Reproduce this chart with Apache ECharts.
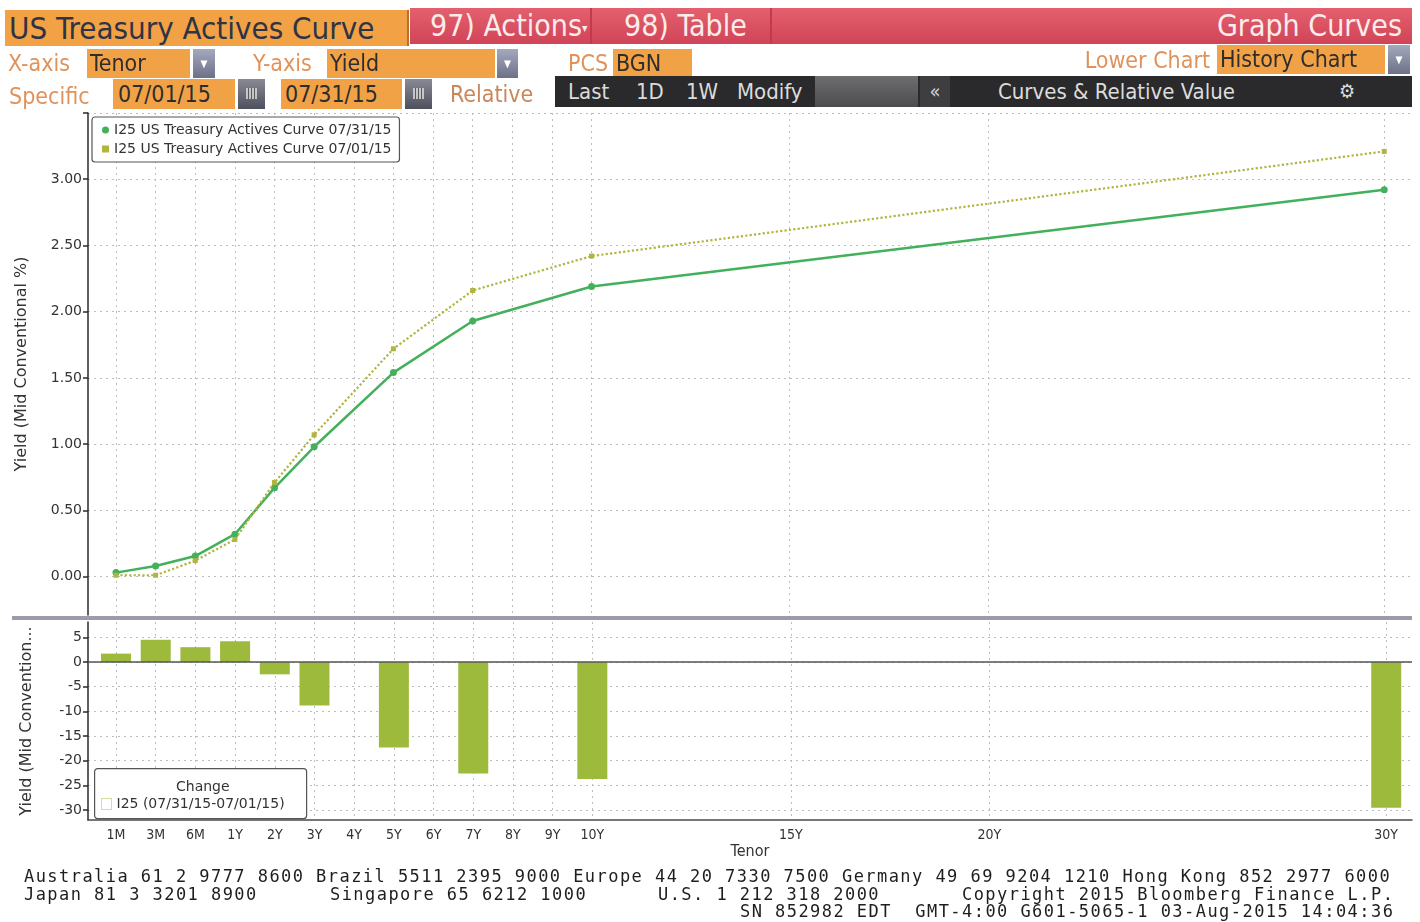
<!DOCTYPE html>
<html><head><meta charset="utf-8">
<script src="https://cdn.jsdelivr.net/npm/echarts@6/dist/echarts.min.js"></script>
<style>
body{margin:0;background:#fff;width:1420px;height:922px;overflow:hidden;position:relative;}
#chart{position:absolute;left:0;top:0;width:1420px;height:922px;}
.b{position:absolute;box-sizing:border-box;white-space:nowrap;font-family:"DejaVu Sans Condensed","DejaVu Sans",sans-serif;font-stretch:condensed;z-index:5;}
.org{background:#f2a246;color:#2d2d2d;font-size:23px;line-height:29px;padding-left:3px;}
.lab{color:#e0925a;font-size:23px;line-height:29px;}
.dd{background:linear-gradient(#a4a9bc,#6c7189);color:#fff;font-size:10px;text-align:center;line-height:29px;}
.cal{background:linear-gradient(#8a8a96,#4e4f5c);}
.cal:after{content:"";position:absolute;left:8px;top:9px;width:11px;height:11px;background:repeating-linear-gradient(90deg,#ddd 0 2px,transparent 2px 3px),#555;opacity:.8;}
.dk{color:#dcdcdc;font-size:22px;line-height:30px;}
.ft{position:absolute;font-family:"DejaVu Sans Mono",monospace;font-size:17px;letter-spacing:1.45px;color:#1e1e1e;white-space:pre;line-height:18px;z-index:5;}
</style></head>
<body>
<div id="chart"></div>
<!-- header row 1 -->
<div class="b" style="left:5px;top:10px;width:404px;height:36px;background:#f2a144;border-right:2px solid #b8702a;color:#2f3444;font-size:31px;line-height:36px;padding-left:4px;">US Treasury Actives Curve</div>
<div class="b" style="left:410px;top:8px;width:1002px;height:36px;background:linear-gradient(#e4606e,#d04457);"></div>
<div class="b" style="left:590px;top:8px;width:2px;height:36px;background:#c23a4c;"></div>
<div class="b" style="left:770px;top:8px;width:2px;height:36px;background:#c23a4c;"></div>
<div class="b" style="left:430px;top:8px;color:#fbecec;font-size:30px;line-height:36px;">97) Actions<span style="font-size:12px;vertical-align:middle;">▾</span></div>
<div class="b" style="left:624px;top:8px;color:#fbecec;font-size:30px;line-height:36px;">98) Table</div>
<div class="b" style="left:1100px;top:8px;width:302px;text-align:right;color:#fbecec;font-size:30px;line-height:36px;">Graph Curves</div>
<!-- header row 2 -->
<div class="b lab" style="left:8px;top:49px;">X-axis</div>
<div class="b org" style="left:87px;top:49px;width:103px;height:29px;">Tenor</div>
<div class="b dd" style="left:193px;top:49px;width:22px;height:29px;">▼</div>
<div class="b lab" style="left:253px;top:49px;">Y-axis</div>
<div class="b org" style="left:327px;top:49px;width:168px;height:29px;">Yield</div>
<div class="b dd" style="left:497px;top:49px;width:21px;height:29px;">▼</div>
<div class="b lab" style="left:568px;top:49px;">PCS</div>
<div class="b org" style="left:613px;top:49px;width:79px;height:29px;">BGN</div>
<div class="b lab" style="left:1010px;top:46px;width:200px;text-align:right;">Lower Chart</div>
<div class="b org" style="left:1217px;top:45px;width:168px;height:29px;">History Chart</div>
<div class="b dd" style="left:1388px;top:45px;width:22px;height:29px;">▼</div>
<!-- header row 3 -->
<div class="b lab" style="left:9px;top:82px;">Specific</div>
<div class="b org" style="left:113px;top:79px;width:122px;height:30px;padding-left:5px;line-height:30px;">07/01/15</div>
<div class="b cal" style="left:238px;top:79px;width:27px;height:30px;"></div>
<div class="b org" style="left:281px;top:79px;width:121px;height:30px;padding-left:4px;line-height:30px;">07/31/15</div>
<div class="b cal" style="left:405px;top:79px;width:27px;height:30px;"></div>
<div class="b lab" style="left:450px;top:80px;color:#c9875a;">Relative</div>
<div class="b" style="left:555px;top:76px;width:857px;height:31px;background:#2a2a2c;"></div>
<div class="b" style="left:815px;top:76px;width:103px;height:31px;background:linear-gradient(#6e6e70,#4c4c4e);"></div>
<div class="b" style="left:920px;top:76px;width:30px;height:31px;background:#3e3e40;color:#cfcfcf;font-size:20px;line-height:31px;text-align:center;">«</div>
<div class="b dk" style="left:568px;top:77px;">Last</div>
<div class="b dk" style="left:636px;top:77px;">1D</div>
<div class="b dk" style="left:686px;top:77px;">1W</div>
<div class="b dk" style="left:737px;top:77px;">Modify</div>
<div class="b dk" style="left:998px;top:77px;">Curves &amp; Relative Value</div>
<div class="b dk" style="left:1339px;top:76px;font-size:20px;">⚙</div>
<!-- footer -->
<div class="ft" style="left:24px;top:867px;">Australia 61 2 9777 8600 Brazil 5511 2395 9000 Europe 44 20 7330 7500 Germany 49 69 9204 1210 Hong Kong 852 2977 6000</div>
<div class="ft" style="left:24px;top:885px;">Japan 81 3 3201 8900</div>
<div class="ft" style="left:330px;top:885px;">Singapore 65 6212 1000</div>
<div class="ft" style="left:658px;top:885px;">U.S. 1 212 318 2000</div>
<div class="ft" style="left:962px;top:885px;">Copyright 2015 Bloomberg Finance L.P.</div>
<div class="ft" style="left:740px;top:902px;">SN 852982 EDT  GMT-4:00 G601-5065-1 03-Aug-2015 14:04:36</div>
<script>
// ---- data ----
const tenors = ['1M','3M','6M','1Y','2Y','3Y','5Y','7Y','10Y','30Y'];
const tenorAxisPos = [-2,-1,0,1,2,3,5,7,10,30];   // position on the tenor scale (short end stretched)
const curve0731 = [0.03,0.08,0.155,0.32,0.67,0.98,1.54,1.93,2.19,2.92];
const curve0701 = [0.01,0.01,0.12,0.28,0.71,1.07,1.72,2.16,2.42,3.21];
const changeBp = [1.7,4.5,3.0,4.2,-2.5,-8.8,-17.3,-22.6,-23.7,-29.5];
const xTickPos = [-2,-1,0,1,2,3,4,5,6,7,8,9,10,15,20,30];
const xTickLabels = ['1M','3M','6M','1Y','2Y','3Y','4Y','5Y','6Y','7Y','8Y','9Y','10Y','15Y','20Y','30Y'];
const yTicksTop = [0,0.5,1,1.5,2,2.5,3,3.5];
const yLabelsTop = [0,0.5,1,1.5,2,2.5,3];
const yTicksBottom = [-30,-25,-20,-15,-10,-5,0,5];
const seriesNames = ['I25 US Treasury Actives Curve 07/31/15','I25 US Treasury Actives Curve 07/01/15','I25 (07/31/15-07/01/15)'];

const X_MIN = -2.706, X_MAX = 30.65;
const pairs = vals => tenors.map((t,i)=>[tenorAxisPos[i], vals[i]]);
const xLabel = v => { const i = xTickPos.indexOf(v); return i >= 0 ? xTickLabels[i] : ''; };
const dotted = {type:[2,4], color:'#bdbdbd', width:1};
const font = 'DejaVu Sans';
const condFont = 'DejaVu Sans Condensed';

const chart = echarts.init(document.getElementById('chart'));
chart.setOption({
  animation:false,
  backgroundColor:'#fff',
  textStyle:{fontFamily:font},
  grid:[
    {left:88, top:113, width:1322, height:502},
    {left:88, top:622, width:1324, height:198}
  ],
  xAxis:[
    {type:'value', gridIndex:0, min:X_MIN, max:X_MAX,
     axisLine:{show:false, onZero:false}, axisTick:{show:false, customValues:xTickPos},
     axisLabel:{show:false, customValues:xTickPos},
     splitLine:{show:true, lineStyle:dotted}},
    {type:'value', gridIndex:1, min:X_MIN, max:X_MAX,
     axisLine:{show:true, onZero:false, lineStyle:{color:'#4a4a4a', width:1.5}},
     axisTick:{show:false, customValues:xTickPos},
     axisLabel:{customValues:xTickPos, formatter:xLabel, color:'#333', fontSize:14, fontFamily:condFont, margin:8},
     splitLine:{show:true, lineStyle:dotted},
     name:'Tenor', nameLocation:'middle', nameGap:24,
     nameTextStyle:{color:'#333', fontSize:16, fontFamily:condFont}}
  ],
  yAxis:[
    {type:'value', gridIndex:0, min:-0.29, max:3.5,
     axisLine:{show:true, onZero:false, lineStyle:{color:'#2a2a2a', width:1.5}},
     axisTick:{show:true, customValues:yTicksTop, length:5, lineStyle:{color:'#2a2a2a', width:1.5}},
     axisLabel:{customValues:yLabelsTop, formatter:v=>v.toFixed(2), color:'#333', fontSize:14, margin:6},
     splitLine:{show:true, lineStyle:dotted},
     name:'Yield (Mid Conventional %)', nameLocation:'middle', nameGap:58, nameRotate:90,
     nameTextStyle:{color:'#333', fontSize:16}},
    {type:'value', gridIndex:1, min:-32, max:8.1,
     axisLine:{show:true, onZero:false, lineStyle:{color:'#2a2a2a', width:1.5}},
     axisTick:{show:true, customValues:yTicksBottom, length:5, lineStyle:{color:'#2a2a2a', width:1.5}},
     axisLabel:{customValues:yTicksBottom, color:'#333', fontSize:14, margin:6},
     splitLine:{show:true, lineStyle:dotted},
     name:'Yield (Mid Convention...', nameLocation:'middle', nameGap:53, nameRotate:90,
     nameTextStyle:{color:'#333', fontSize:16}}
  ],
  legend:[
    {left:92, top:117, orient:'vertical', padding:[6,8,6,10], itemGap:5,
     itemWidth:7, itemHeight:7, borderColor:'#555', borderWidth:1.2, borderRadius:3, backgroundColor:'#fff',
     textStyle:{color:'#333', fontSize:14, fontFamily:font},
     data:[{name:seriesNames[0], icon:'circle'},{name:seriesNames[1], icon:'rect'}]},
    {left:101, top:797, orient:'horizontal', padding:0, itemWidth:10, itemHeight:11, itemGap:4, z:6,
     textStyle:{color:'#333', fontSize:14, fontFamily:font},
     itemStyle:{color:'#fff', borderColor:'#b3b640', borderWidth:1, borderType:'dotted'},
     data:[{name:seriesNames[2], icon:'rect'}]}
  ],
  graphic:[
    {type:'rect', left:12, top:616, shape:{width:1400, height:4}, style:{fill:'#9c9bab'}, z:5},
    {type:'rect', left:94, top:768, shape:{width:212, height:50, r:3}, style:{fill:'#fff', stroke:'#555', lineWidth:1.2}, z:5},
    {type:'text', left:176, top:780, style:{text:'Change', fill:'#333', font:'14px "DejaVu Sans"'}, z:6}
  ],
  series:[
    {name:seriesNames[0], type:'line', xAxisIndex:0, yAxisIndex:0, data:pairs(curve0731),
     color:'#43b05c', lineStyle:{width:2.5, color:'#43b05c'}, symbol:'circle', symbolSize:7, z:3},
    {name:seriesNames[1], type:'line', xAxisIndex:0, yAxisIndex:0, data:pairs(curve0701),
     color:'#b1b43e', lineStyle:{width:2.2, type:'dotted', color:'#b1b43e'}, symbol:'rect', symbolSize:5, z:4},
    {name:seriesNames[2], type:'bar', xAxisIndex:1, yAxisIndex:1, data:pairs(changeBp),
     barWidth:30, itemStyle:{color:'#9dba3c'}, z:3,
     markLine:{silent:true, symbol:'none', label:{show:false}, animation:false,
       lineStyle:{color:'#555', type:'solid', width:1.5}, data:[{yAxis:0}]}}
  ]
});
</script>
</body></html>
